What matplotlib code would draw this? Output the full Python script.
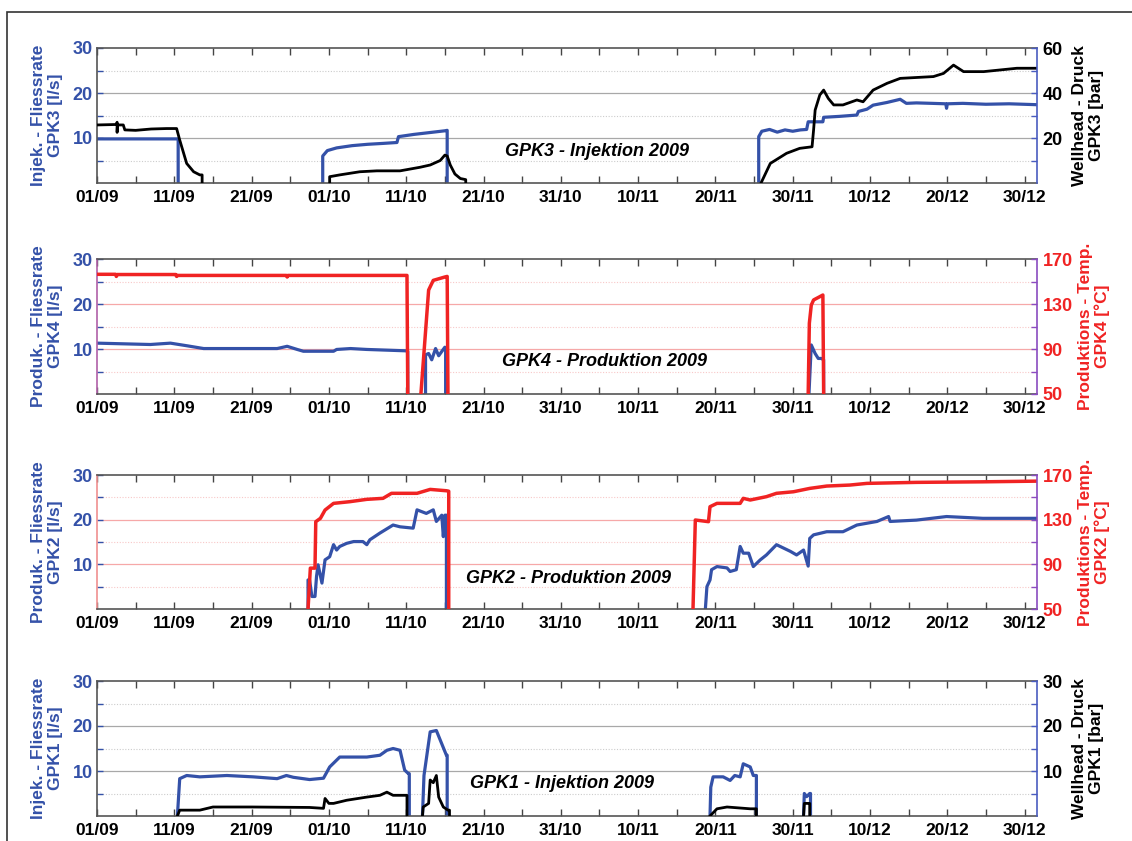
import numpy as np
import matplotlib
matplotlib.use("Agg")
import matplotlib.pyplot as plt
from matplotlib.patches import Rectangle

plt.rcParams['font.family'] = ['Liberation Sans', 'DejaVu Sans']
plt.rcParams['font.weight'] = 'bold'

nan = np.nan

# ---- x axis (days since 01/09/2009) ----
tick_days = [0, 10, 20, 30, 40, 50, 60, 70, 80, 90, 100, 110, 120]
tick_labels = ['01/09', '11/09', '21/09', '01/10', '11/10', '21/10', '31/10',
               '10/11', '20/11', '30/11', '10/12', '20/12', '30/12']
minor_days = [5, 15, 25, 35, 45, 55, 65, 75, 85, 95, 105, 115]

# ---- GPK3 injection (rate l/s, wellhead pressure bar) ----
gpk3_rate_days = [0, 10.5, 10.5, nan,
                  29.2, 29.2, 29.8, 31, 33, 35, 37, 38.8, 39, 41, 43, 45, 45.3, 45.3, nan,
                  85.6, 85.6, 86.0, 87, 88, 89, 90, 91, 91.8, 92.0, 93.9, 94.0, 96, 98.3, 98.5,
                  99.6, 100.4, 102.2, 103.9, 104.7, 106, 108, 109.8, 109.9, 110.0, 112, 115, 118, 121.6]
gpk3_rate = [9.8, 9.8, 0, nan,
             0, 6.0, 7.2, 7.8, 8.3, 8.6, 8.8, 9.0, 10.3, 10.8, 11.2, 11.6, 11.7, 0, nan,
             0, 10.3, 11.5, 11.9, 11.3, 11.8, 11.5, 11.8, 11.9, 13.6, 13.6, 14.6, 14.8, 15.1, 15.9,
             16.4, 17.3, 17.9, 18.6, 17.7, 17.8, 17.7, 17.6, 16.6, 17.6, 17.7, 17.5, 17.6, 17.4]
gpk3_press_days = [0, 2.5, 2.6, 2.6, 2.65, 2.7, 3.4, 3.6, 5, 7, 9, 10.3, 10.7, 11.6, 12.5, 13.3, 13.6, 13.6, nan,
                   30.1, 30.1, 31.4, 34, 36.2, 39.2, 41.8, 43.1, 44.4, 45.0, 45.3, 45.7, 46.3, 47.0, 47.7, 47.7, nan,
                   85.9, 87.1, 89.2, 90.9, 92.5, 92.7, 92.9, 93.5, 94.0, 94.6, 95.3, 96.5, 98.3, 99.1,
                   100.4, 102.2, 103.9, 108.2, 109.5, 110.8, 112.1, 114.7, 119.0, 121.6]
gpk3_press = [25.8, 26, 27, 22.5, 25.8, 25.8, 25.8, 23.6, 23.4, 24, 24.2, 24.2, 19.1, 8.7, 5, 3.6, 3.6, 0, nan,
              0, 2.8, 3.6, 5, 5.4, 5.4, 7, 8, 10, 12.4, 12, 8, 4, 2, 1.5, 0, nan,
              0, 8.7, 13.2, 15.4, 16.1, 23.6, 32.4, 39.1, 41.3, 37.6, 34.7, 34.7, 36.9, 36.1,
              41.3, 44.3, 46.5, 47.3, 48.7, 52.4, 49.5, 49.5, 51, 51]

# ---- GPK4 production (rate l/s, temperature degC) ----
gpk4_rate_days = [0, 6.9, 9.5, 11.7, 13.8, 17.7, 23.3, 24.6, 25.9, 26.7, 30.6, 31.0, 32.8, 34.9, 39.9, 40.2, 40.2, nan,
                  42.5, 42.5, 42.9, 43.3, 43.8, 44.2, 45.0, 45.1, 45.1, nan,
                  92.1, 92.4, 92.9, 93.3, 93.7, 94.0, 94.0]
gpk4_rate = [11.3, 11.0, 11.3, 10.7, 10.1, 10.1, 10.1, 10.6, 9.9, 9.5, 9.5, 9.9, 10.1, 9.9, 9.6, 9.5, 0, nan,
             0, 8.7, 9.0, 7.6, 10.1, 8.5, 10.4, 10.3, 0, nan,
             0, 10.9, 9.0, 7.9, 7.9, 7.6, 0]
gpk4_temp_days = [0, 2.4, 2.5, 2.6, 10.2, 10.3, 10.4, 24.5, 24.6, 24.7, 40.1, 40.2, nan,
                  41.9, 42.9, 43.5, 45.0, 45.3, 45.4, nan,
                  92.0, 92.15, 92.4, 92.7, 93.5, 93.9, 94.0]
gpk4_temp = [156.4, 156.4, 154.5, 156.2, 156.2, 154.5, 155.4, 155.4, 154, 155.4, 155.4, 50, nan,
             50, 142.4, 151, 154, 154.5, 50, nan,
             50, 112.9, 129, 133.6, 136.5, 138, 50]

# ---- GPK2 production (rate l/s, temperature degC) ----
gpk2_rate_days = [27.3, 27.3, 27.5, 27.8, 28.2, 28.4, 28.6, 29.1, 29.5, 30.1, 30.6, 31.0, 31.4, 32.3, 33.2,
                  34.4, 34.9, 35.3, 36.6, 38.3, 39.2, 40.9, 41.4, 42.6, 43.5, 43.9, 44.6, 44.8, 45.0, 45.2, 45.2, nan,
                  78.7, 78.9, 79.3, 79.5, 80.2, 81.5, 81.9, 82.7, 83.2, 83.6, 84.3, 84.9, 85.8, 86.6, 87.9,
                  89.7, 90.5, 91.4, 92.0, 92.2, 92.7, 94.4, 96.5, 98.3, 100.9, 102.4, 102.6, 106.0, 109.9,
                  114.6, 121.6]
gpk2_rate = [0, 6.5, 6.5, 2.8, 2.8, 7.3, 9.9, 5.8, 11.0, 11.7, 14.4, 13.2, 14.0, 14.7, 15.1,
             15.1, 14.4, 15.5, 17.0, 18.8, 18.4, 18.1, 22.2, 21.4, 22.2, 19.6, 21.0, 16.2, 21.0, 21.0, 0, nan,
             0, 5.0, 6.5, 8.8, 9.5, 9.2, 8.4, 8.8, 14.0, 12.5, 12.5, 9.5, 11.0, 12.1, 14.4,
             12.9, 12.1, 13.2, 9.6, 15.8, 16.6, 17.3, 17.3, 18.8, 19.6, 20.7, 19.6, 19.9, 20.7,
             20.3, 20.3]
gpk2_temp_days = [27.3, 27.6, 28.2, 28.3, 28.9, 29.5, 30.6, 32.7, 34.9, 37.0, 38.1, 41.4, 43.1, 45.2, 45.5, 45.5, nan,
                  77.1, 77.4, 79.1, 79.3, 80.2, 83.2, 83.6, 84.5, 86.6, 87.9, 90.1, 92.2, 94.4, 97.4,
                  99.6, 106.0, 114.6, 121.6]
gpk2_temp = [50, 86.6, 86.6, 128.2, 131.2, 138.6, 144.6, 146.1, 148.2, 149.1, 153.6, 153.6, 157.1, 155.9, 155.5, 50, nan,
             50, 129.7, 128.2, 141.6, 144.6, 144.6, 149.1, 147.6, 150.6, 153.6, 155.0, 158.0, 160.1, 161.0,
             162.5, 163.4, 163.9, 164.5]

# ---- GPK1 injection (rate l/s, wellhead pressure bar) ----
gpk1_rate_days = [10.4, 10.7, 11.6, 13.3, 16.8, 20.2, 23.3, 24.5, 25.4, 27.5, 29.3, 30.1, 31.4, 34.9, 36.6,
                  37.5, 38.3, 39.2, 39.8, 40.3, 40.4, 40.4, nan,
                  42.1, 42.3, 43.1, 43.9, 45.2, 45.3, 45.3, nan,
                  79.3, 79.4, 79.7, 81.0, 81.9, 82.5, 83.2, 83.6, 84.5, 84.9, 85.3, 85.3, nan,
                  91.4, 91.5, 91.8, 92.2, 92.3, 92.3]
gpk1_rate = [0, 8.3, 9.0, 8.7, 9.0, 8.7, 8.3, 9.0, 8.6, 8.1, 8.4, 10.9, 13.1, 13.1, 13.5,
             14.6, 15.0, 14.6, 10.2, 9.4, 9.4, 0, nan,
             0, 9.0, 18.7, 19.0, 13.5, 13.5, 0, nan,
             0, 6.4, 8.7, 8.7, 7.9, 9.0, 8.7, 11.6, 10.9, 9.0, 9.0, 0, nan,
             0, 5.0, 4.3, 5.0, 5.0, 0]
gpk1_press_days = [10.4, 10.7, 13.3, 15.0, 20, 27.5, 29.3, 29.5, 30.0, 30.6, 32.3, 34.9, 36.6, 37.5, 38.3, 40.1, 40.1, nan,
                   42.1, 42.2, 42.9, 43.1, 43.5, 43.9, 44.2, 44.8, 45.4, 45.6, 45.6, nan,
                   79.3, 80.2, 81.5, 84.5, 84.9, 85.3, 85.3, nan,
                   91.4, 91.5, 92.1, 92.2, 92.2]
gpk1_press = [0, 1.3, 1.3, 2.0, 2.0, 1.9, 1.7, 3.9, 2.8, 2.8, 3.5, 4.2, 4.6, 5.3, 4.6, 4.6, 0, nan,
              0, 2.0, 2.8, 8.0, 7.4, 9.0, 4.2, 2.0, 1.3, 1.3, 0, nan,
              0, 1.6, 2.0, 1.6, 1.6, 1.6, 0, nan,
              0, 2.8, 2.8, 2.8, 0]

BLUE = '#3451a8'
RED = '#f02323'
BLACK = '#000000'

W, H = 1132, 841
fig = plt.figure(figsize=(W / 100, H / 100), dpi=100)

# figure frame (left and top edges visible)
fig.add_artist(Rectangle((7 / W, -0.2), 1.3, 1.2 - 12 / H, transform=fig.transFigure,
                         fill=False, edgecolor='#333333', lw=1.2, clip_on=False))

left_px, right_px = 97, 1037
panels = [(48, 183), (259, 394), (475, 609), (681, 816)]


def make_axes(top, bot):
    return fig.add_axes([left_px / W, 1 - bot / H, (right_px - left_px) / W, (bot - top) / H])


def style_axes(ax, grid_color, grid_dot_color, left_spine):
    ax.set_xlim(0, 121.6)
    ax.set_ylim(0, 30)
    ax.set_xticks(tick_days)
    ax.set_xticklabels(tick_labels)
    ax.set_xticks(minor_days, minor=True)
    ax.set_yticks([10, 20, 30])
    ax.set_yticks([5, 15, 25], minor=True)
    ax.tick_params(axis='x', which='both', direction='in', top=True, length=5, width=1,
                   color='#444444', labelsize=12.5, pad=5)
    ax.tick_params(axis='y', which='both', direction='in', length=4, width=1,
                   color=BLUE, labelcolor=BLUE, labelsize=13, pad=3)
    for lbl in ax.get_xticklabels() + ax.get_yticklabels():
        lbl.set_fontweight('bold')
    for y in [10, 20]:
        ax.axhline(y, color=grid_color, lw=0.9, zorder=0)
    for y in [5, 15, 25]:
        ax.axhline(y, color=grid_dot_color, lw=0.8, ls=(0, (1, 1.5)), zorder=0)
    for s in ['top', 'bottom']:
        ax.spines[s].set_color('#555555')
        ax.spines[s].set_linewidth(1.2)
    ax.spines['left'].set_color(left_spine)
    ax.spines['left'].set_linewidth(1.2)
    ax.spines['right'].set_visible(False)


def style_twin(tx, ylim, majors, minors, color, spine_color):
    tx.set_ylim(*ylim)
    tx.set_yticks(majors)
    tx.set_yticks(minors, minor=True)
    tx.tick_params(axis='y', which='both', direction='in', length=4, width=1,
                   color=spine_color, labelcolor=color, labelsize=13, pad=4)
    for lbl in tx.get_yticklabels():
        lbl.set_fontweight('bold')
    for s in ['top', 'bottom', 'left']:
        tx.spines[s].set_visible(False)
    tx.spines['right'].set_color(spine_color)
    tx.spines['right'].set_linewidth(1.2)


def ylabels(top, bot, ltext, rtext, rcolor, rx=1088):
    yc = 1 - (top + bot) / 2 / H
    fig.text(47 / W, yc, ltext, rotation=90, ha='center', va='center', ma='center',
             color=BLUE, fontsize=12.5, fontweight='bold', linespacing=1.15)
    fig.text(rx / W, yc, rtext, rotation=90, ha='center', va='center', ma='center',
             color=rcolor, fontsize=12.5, fontweight='bold', linespacing=1.15)


def title(ax, x, y, text):
    ax.text(x, y, text, transform=ax.transAxes, ha='center', va='center',
            fontsize=13, fontweight='bold', fontstyle='italic')


# ---------- Panel 1: GPK3 ----------
top, bot = panels[0]
ax = make_axes(top, bot)
style_axes(ax, '#a8a8a8', '#cccccc', '#555555')
ax.plot(gpk3_rate_days, gpk3_rate, color=BLUE, lw=2.3)
tx = ax.twinx()
style_twin(tx, (0, 60), [20, 40, 60], [10, 30, 50], BLACK, '#4a5cc0')
tx.plot(gpk3_press_days, gpk3_press, color=BLACK, lw=2.0)
title(ax, 0.532, 0.23, 'GPK3 - Injektion 2009')
ylabels(top, bot, 'Injek. - Fliessrate\nGPK3 [l/s]', 'Wellhead - Druck\nGPK3 [bar]', BLACK)

# ---------- Panel 2: GPK4 ----------
top, bot = panels[1]
ax = make_axes(top, bot)
style_axes(ax, '#f6a8a8', '#f8c8c8', '#b060a8')
ax.plot(gpk4_rate_days, gpk4_rate, color=BLUE, lw=2.3)
tx = ax.twinx()
style_twin(tx, (50, 170), [50, 90, 130, 170], [70, 110, 150], RED, '#8a4cc0')
tx.plot(gpk4_temp_days, gpk4_temp, color=RED, lw=2.5)
title(ax, 0.54, 0.244, 'GPK4 - Produktion 2009')
ylabels(top, bot, 'Produk. - Fliessrate\nGPK4 [l/s]', 'Produktions - Temp.\nGPK4 [°C]', RED, rx=1094)

# ---------- Panel 3: GPK2 ----------
top, bot = panels[2]
ax = make_axes(top, bot)
style_axes(ax, '#f6a8a8', '#f8c8c8', '#f09090')
ax.plot(gpk2_rate_days, gpk2_rate, color=BLUE, lw=2.3)
tx = ax.twinx()
style_twin(tx, (50, 170), [50, 90, 130, 170], [70, 110, 150], RED, '#8a4cc0')
tx.plot(gpk2_temp_days, gpk2_temp, color=RED, lw=2.5)
title(ax, 0.502, 0.23, 'GPK2 - Produktion 2009')
ylabels(top, bot, 'Produk. - Fliessrate\nGPK2 [l/s]', 'Produktions - Temp.\nGPK2 [°C]', RED, rx=1094)

# ---------- Panel 4: GPK1 ----------
top, bot = panels[3]
ax = make_axes(top, bot)
style_axes(ax, '#a8a8a8', '#cccccc', '#555555')
ax.plot(gpk1_rate_days, gpk1_rate, color=BLUE, lw=2.3)
tx = ax.twinx()
style_twin(tx, (0, 30), [10, 20, 30], [5, 15, 25], BLACK, '#4a5cc0')
tx.plot(gpk1_press_days, gpk1_press, color=BLACK, lw=2.0)
title(ax, 0.495, 0.244, 'GPK1 - Injektion 2009')
ylabels(top, bot, 'Injek. - Fliessrate\nGPK1 [l/s]', 'Wellhead - Druck\nGPK1 [bar]', BLACK)

fig.savefig('out.png', dpi=100)
